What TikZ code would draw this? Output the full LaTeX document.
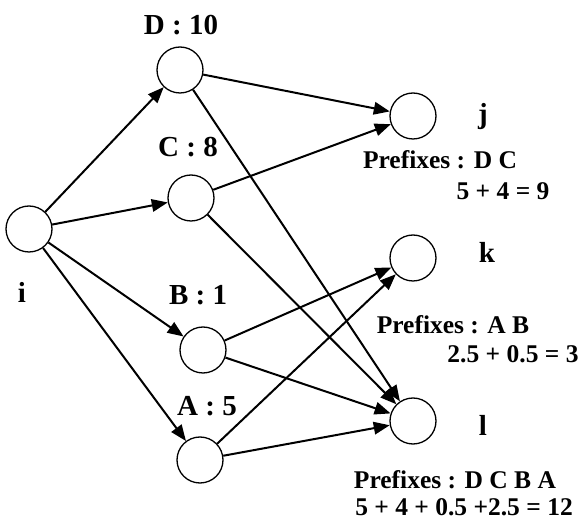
\documentclass[tikz,border=0pt]{standalone}
\usepackage{fontspec}
\setmainfont{Liberation Serif}
\usetikzlibrary{arrows.meta}
\begin{document}
\begin{tikzpicture}[x=1pt,y=-1pt,
  vert/.style={circle,draw,line width=1.3pt,minimum size=46pt,inner sep=0pt},
  conn/.style={line width=2pt,-{Triangle[length=16pt,width=12.5pt]}},
  lab/.style={font=\fontsize{29}{32}\selectfont\bfseries,inner sep=0pt},
  pre/.style={font=\fontsize{25.5}{28}\selectfont\bfseries,inner sep=0pt}]
\useasboundingbox (0,0) rectangle (582,521);
\node[vert] (i) at (29,229) {};
\node[vert] (D) at (180,70) {};
\node[vert] (C) at (191,198) {};
\node[vert] (B) at (203,350) {};
\node[vert] (A) at (200,460) {};
\node[vert] (j) at (413,116) {};
\node[vert] (k) at (413,258) {};
\node[vert] (l) at (413,421) {};
\node[lab] (tD) at (181,25) {D : 10};
\node[lab] (tC) at (188,147) {C : 8};
\node[lab] (tB) at (198,295) {B : 1};
\node[lab] (tA) at (207,406) {A : 5};
\node[lab] (ti) at (22,292) {i};
\node[lab] (tj) at (483,117) {j};
\node[lab] (tk) at (487,252) {k};
\node[lab] (tl) at (483,425) {l};
\node[pre] (pj) at (440,160) {Prefixes : D C};
\node[pre] (sj) at (503,191) {5 + 4 = 9};
\node[pre] (pk) at (453,325) {Prefixes : A B};
\node[pre] (sk) at (513,354) {2.5 + 0.5 = 3};
\node[pre] (pl) at (455,480) {Prefixes : D C B A};
\node[pre] (sl) at (464,507) {5 + 4 + 0.5 +2.5 = 12};
\draw[conn] (i) -- (D);
\draw[conn] (i) -- (C);
\draw[conn] (i) -- (B);
\draw[conn] (i) -- (A);
\draw[conn] (D) -- (j);
\draw[conn] (D) -- (l);
\draw[conn] (C) -- (j);
\draw[conn] (C) -- (l);
\draw[conn] (B) -- (k);
\draw[conn] (B) -- (l);
\draw[conn] (A) -- (k);
\draw[conn] (A) -- (l);
\end{tikzpicture}
\end{document}
